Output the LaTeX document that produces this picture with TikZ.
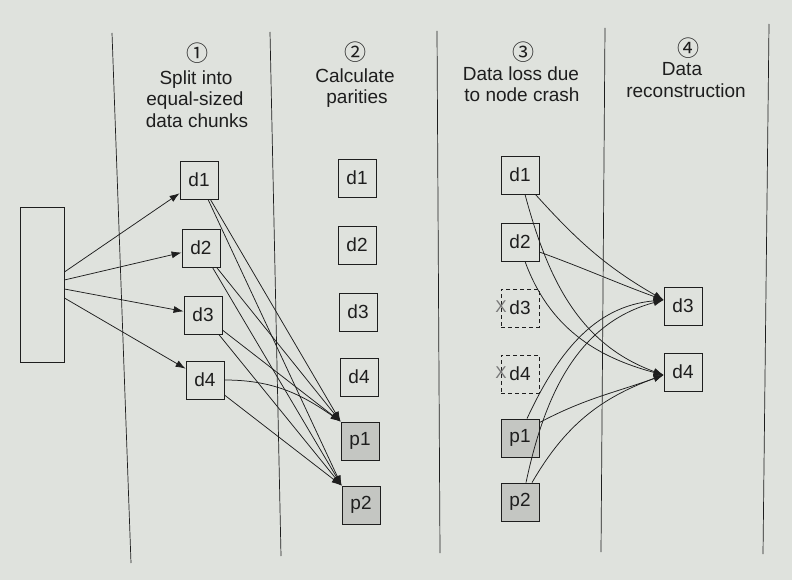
\documentclass[tikz,border=0pt]{standalone}
\usepackage{fontspec}
\setmainfont{Liberation Sans}
\newfontfamily\circfont{Noto Sans CJK SC}
\usetikzlibrary{arrows.meta}
\definecolor{paper}{RGB}{223,226,221}
\definecolor{ink}{RGB}{30,30,30}
\definecolor{parity}{RGB}{196,198,194}
\definecolor{lostmark}{RGB}{120,120,120}
\tikzset{
  chunk/.style={draw=ink, line width=0.8pt, minimum width=38pt, minimum height=38pt,
    inner sep=0pt, text=ink, font=\fontsize{19}{19}\selectfont},
  paritybox/.style={chunk, fill=parity},
  lostbox/.style={chunk, dash pattern=on 4pt off 3pt},
  lane/.style={draw=ink, line width=0.7pt},
  head/.style={anchor=base, text=ink, font=\fontsize{19}{21}\selectfont, inner sep=0pt},
  num/.style={text=ink, font=\circfont\fontsize{22}{22}\selectfont, inner sep=0pt},
  crash/.style={text=lostmark, font=\fontsize{17}{17}\selectfont, inner sep=0pt},
  flow/.style={draw=ink, line width=0.75pt, -{Latex[length=10pt,width=7pt]}},
}
\begin{document}
\begin{tikzpicture}[x=1pt,y=1pt]
  % page
  \fill[paper] (0,0) rectangle (792,-580);
  \useasboundingbox (0,0) rectangle (792,-580);

  % lane separators
  \draw[lane] (112,-33) -- (131,-563);
  \draw[lane] (270,-32) -- (281,-556);
  \draw[lane] (437,-31) -- (440,-553);
  \draw[lane] (605,-28) -- (601,-552);
  \draw[lane] (769,-24) -- (763,-554);

  % step headings
  \node[num]  (n1)  at (197,-53) {①};
  \node[head] (h1a) at (196,-85) {Split into};
  \node[head] (h1b) at (195,-106) {equal-sized};
  \node[head] (h1c) at (197,-128) {data chunks};

  \node[num]  (n2)  at (355,-52) {②};
  \node[head] (h2a) at (355,-83) {Calculate};
  \node[head] (h2b) at (357,-104) {parities};

  \node[num]  (n3)  at (523,-52) {③};
  \node[head] (h3a) at (521,-81) {Data loss due};
  \node[head] (h3b) at (522,-102) {to node crash};

  \node[num]  (n4)  at (688,-48) {④};
  \node[head] (h4a) at (682,-76) {Data};
  \node[head] (h4b) at (686,-98) {reconstruction};

  % original data
  \node[draw=ink, line width=0.8pt, minimum width=44pt, minimum height=155pt,
        inner sep=0pt] (src) at (42,-284.5) {};

  % step 1: data chunks
  \node[chunk] (a1) at (199,-180) {d1};
  \node[chunk] (a2) at (201,-248) {d2};
  \node[chunk] (a3) at (203,-315) {d3};
  \node[chunk] (a4) at (205,-380) {d4};

  % step 2: chunks plus parities
  \node[chunk] (b1) at (357,-178) {d1};
  \node[chunk] (b2) at (357,-245) {d2};
  \node[chunk] (b3) at (358,-312) {d3};
  \node[chunk] (b4) at (359,-377) {d4};
  \node[paritybox] (b5) at (360,-441) {p1};
  \node[paritybox] (b6) at (361,-505) {p2};

  % step 3: two chunks lost
  \node[chunk] (c1) at (520,-175) {d1};
  \node[chunk] (c2) at (520,-242) {d2};
  \node[lostbox] (c3) at (520,-308) {d3};
  \node[lostbox] (c4) at (520,-374) {d4};
  \node[paritybox] (c5) at (520,-438) {p1};
  \node[paritybox] (c6) at (520,-502) {p2};
  \node[crash] (x3) at (501,-307) {X};
  \node[crash] (x4) at (501,-373) {X};

  % step 4: rebuilt chunks
  \node[chunk] (r3) at (683,-306) {d3};
  \node[chunk] (r4) at (683,-372) {d4};

  % splitting
  \draw[flow] ([yshift=12.5pt]src.east) -- (a1);
  \draw[flow] ([yshift=4.5pt]src.east) -- (a2);
  \draw[flow] ([yshift=-4.5pt]src.east) -- (a3);
  \draw[flow] ([yshift=-13.5pt]src.east) -- (a4);

  % parity computation
  \draw[flow] (a1) -- (b5.north west);
  \draw[flow] (a1) -- (b6.north west);
  \draw[flow] (a2) -- (b5.north west);
  \draw[flow] (a2) -- (b6.north west);
  \draw[flow] (a3) -- (b5.north west);
  \draw[flow] (a3) -- (b6.north west);
  \draw[flow] (a4.east) to[out=0,in=145] (b5.north west);
  \draw[flow] (a4) -- (b6.north west);

  % reconstruction
  \coordinate (t3) at ([yshift=6pt]r3.west);
  \coordinate (t4) at ([yshift=-3pt]r4.west);
  \draw[flow] ([xshift=-4pt]c1.south east) to[out=-48,in=150] (t3);
  \draw[flow] ([xshift=5pt]c1.south) to[out=-75,in=160] (t4);
  \draw[flow] ([yshift=-10pt]c2.east) to[out=-20,in=160] (t3);
  \draw[flow] ([xshift=5pt]c2.south) to[out=-70,in=165] (t4);
  \draw[flow] ([xshift=7pt]c5.north) to[out=65,in=185] (t3);
  \draw[flow] ([yshift=-4pt]c5.north east) to[out=28,in=200] (t4);
  \draw[flow] ([xshift=6pt]c6.north) to[out=78,in=195] (t3);
  \draw[flow] ([xshift=12pt]c6.north) to[out=60,in=200] (t4);
\end{tikzpicture}
\end{document}
